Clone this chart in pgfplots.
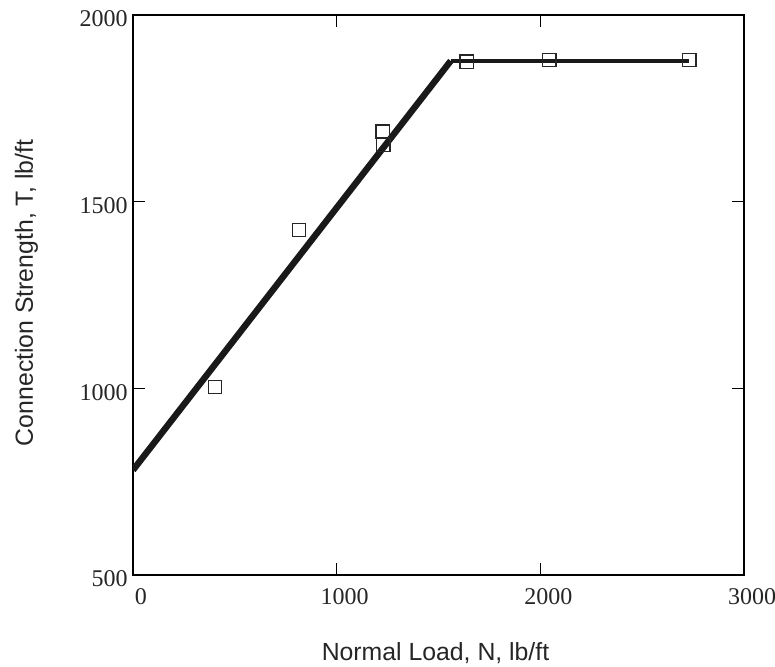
\documentclass[border=0pt]{standalone}
\usepackage{fontspec}
\setmainfont{Liberation Serif}
\newfontfamily\arial{Liberation Sans}
\usepackage{pgfplots}
\pgfplotsset{compat=1.18}
\begin{document}
\begin{tikzpicture}
\path[use as bounding box] (-66.5pt,-46pt) rectangle (321pt,287.5pt);
\begin{axis}[
  scale only axis,
  width=305.5pt, height=280pt,
  xmin=0, xmax=3000, ymin=500, ymax=2000,
  xtick={0,1000,2000,3000},
  ytick={500,1000,1500,2000},
  tick align=inside,
  tick pos=both,
  major tick length=6pt,
  every tick/.style={line width=0.6pt, black},
  axis line style={line width=0.7pt},
  /pgf/number format/assume math mode=true,
  /pgf/number format/1000 sep={},
  tick label style={font=\fontsize{12}{12}\selectfont, text=black!85},
  xticklabel style={anchor=base, yshift=-15pt, xshift=4pt},
  yticklabel style={anchor=east, inner sep=0pt, xshift=-2.5pt, yshift=-2pt},
  xlabel={Normal Load, N, lb/ft},
  ylabel={Connection Strength, T, lb/ft},
  every axis x label/.style={at={([yshift=-43pt,xshift=-1.5pt]axis description cs:0.5,0)}, anchor=base, font=\arial\fontsize{12.4}{12.4}\selectfont, text=black!85},
  every axis y label/.style={at={([xshift=-50pt,yshift=1pt]axis description cs:0,0.5)}, rotate=90, anchor=base, font=\arial\fontsize{12.4}{12.4}\selectfont, text=black!85},
]
\addplot[line width=3.2pt, black!90, line cap=butt] coordinates {(0,781) (1560,1877)};
\addplot[line width=1.8pt, black!90] coordinates {(1560,1877) (2731,1877)};
\addplot[only marks, mark=square, mark size=3.3pt, mark options={line width=0.7pt, draw=black!85, fill=none}] coordinates {
(403,1004) (816,1424) (1229,1652) (1226,1688) (1638,1875) (2044,1879) (2731,1879)
};
\end{axis}
\end{tikzpicture}
\end{document}
